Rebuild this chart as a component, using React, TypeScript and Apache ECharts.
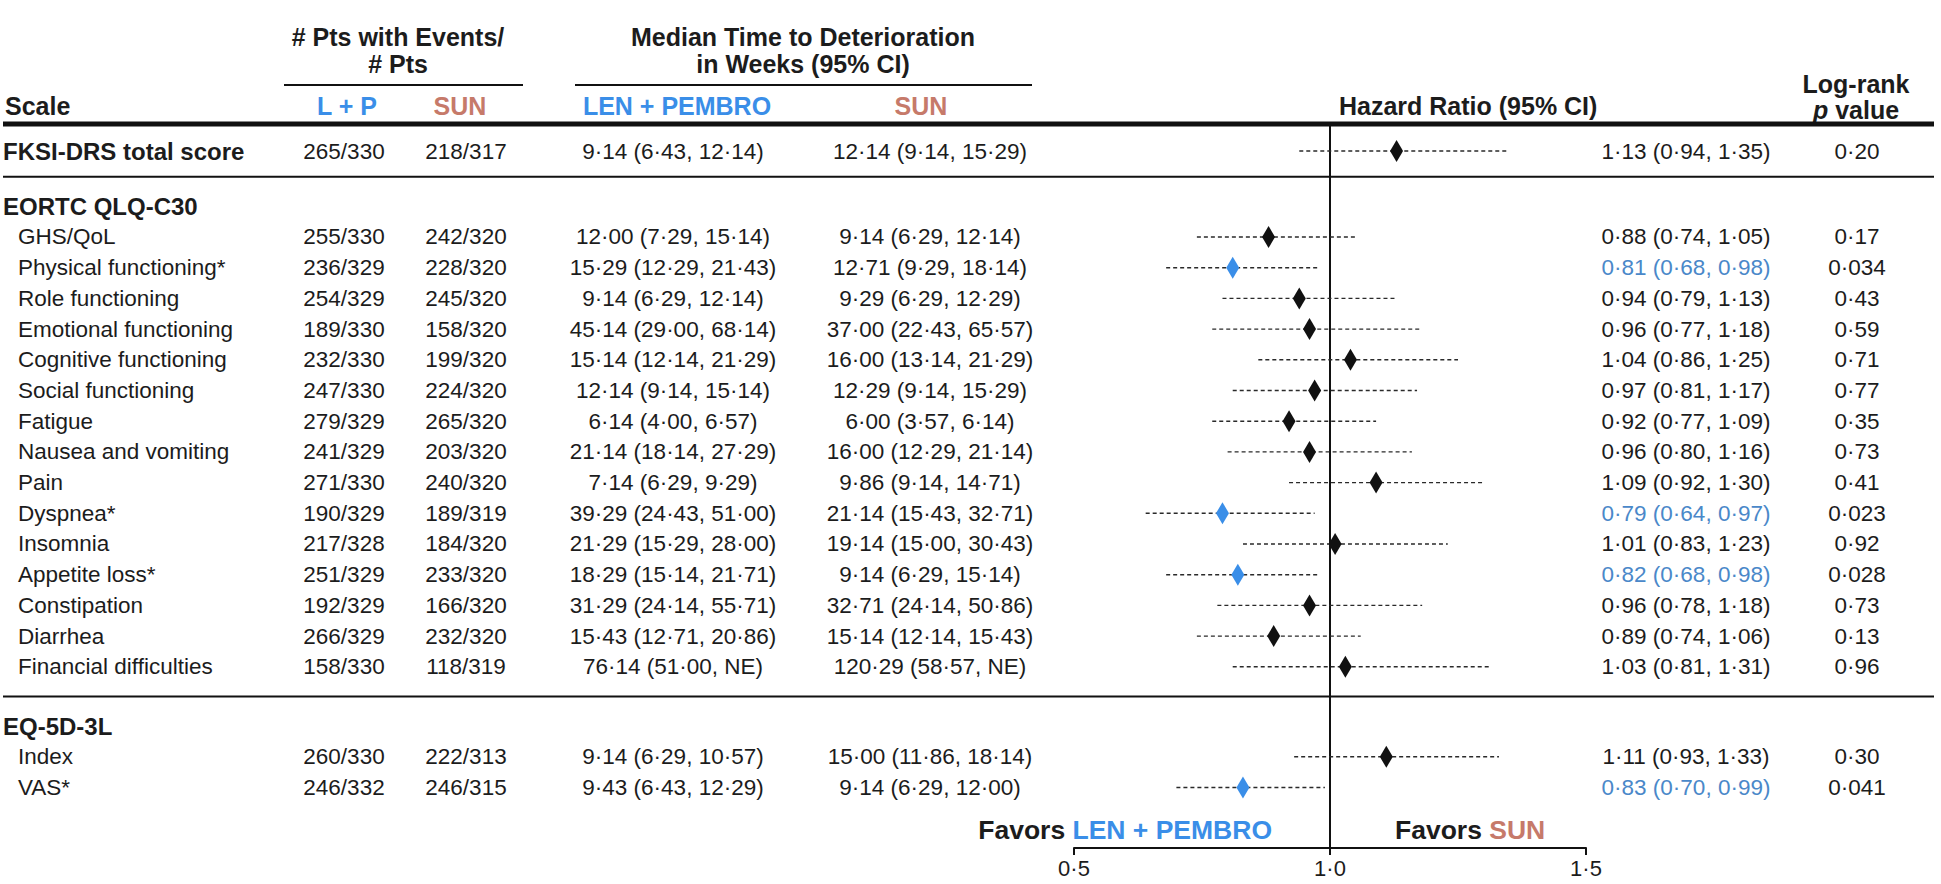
import { useEffect, useRef } from 'react';
import * as echarts from 'echarts';

const FONT = '"Liberation Sans", Arial, Helvetica, sans-serif';
const BLUE = '#3a8ee8';
const BLUE_TEXT = '#4a88c9';
const SUN_COLOR = '#c67a6a';
const TEXT = '#1c1c1c';
const LINE = '#111111';

// ---------- data ----------
const sectionTitles = ['EORTC QLQ-C30', 'EQ-5D-3L'];
const scaleLabels = [
  'FKSI-DRS total score',
  'GHS/QoL', 'Physical functioning*', 'Role functioning', 'Emotional functioning',
  'Cognitive functioning', 'Social functioning', 'Fatigue', 'Nausea and vomiting',
  'Pain', 'Dyspnea*', 'Insomnia', 'Appetite loss*', 'Constipation', 'Diarrhea',
  'Financial difficulties',
  'Index', 'VAS*',
];
// -1: stand-alone (bold) row, otherwise index into sectionTitles
const scaleSection = [-1, 0, 0, 0, 0, 0, 0, 0, 0, 0, 0, 0, 0, 0, 0, 0, 1, 1];
const ptsLP = ['265/330', '255/330', '236/329', '254/329', '189/330', '232/330', '247/330', '279/329', '241/329', '271/330', '190/329', '217/328', '251/329', '192/329', '266/329', '158/330', '260/330', '246/332'];
const ptsSUN = ['218/317', '242/320', '228/320', '245/320', '158/320', '199/320', '224/320', '265/320', '203/320', '240/320', '189/319', '184/320', '233/320', '166/320', '232/320', '118/319', '222/313', '246/315'];
const medianLP = ['9·14 (6·43, 12·14)', '12·00 (7·29, 15·14)', '15·29 (12·29, 21·43)', '9·14 (6·29, 12·14)', '45·14 (29·00, 68·14)', '15·14 (12·14, 21·29)', '12·14 (9·14, 15·14)', '6·14 (4·00, 6·57)', '21·14 (18·14, 27·29)', '7·14 (6·29, 9·29)', '39·29 (24·43, 51·00)', '21·29 (15·29, 28·00)', '18·29 (15·14, 21·71)', '31·29 (24·14, 55·71)', '15·43 (12·71, 20·86)', '76·14 (51·00, NE)', '9·14 (6·29, 10·57)', '9·43 (6·43, 12·29)'];
const medianSUN = ['12·14 (9·14, 15·29)', '9·14 (6·29, 12·14)', '12·71 (9·29, 18·14)', '9·29 (6·29, 12·29)', '37·00 (22·43, 65·57)', '16·00 (13·14, 21·29)', '12·29 (9·14, 15·29)', '6·00 (3·57, 6·14)', '16·00 (12·29, 21·14)', '9·86 (9·14, 14·71)', '21·14 (15·43, 32·71)', '19·14 (15·00, 30·43)', '9·14 (6·29, 15·14)', '32·71 (24·14, 50·86)', '15·14 (12·14, 15·43)', '120·29 (58·57, NE)', '15·00 (11·86, 18·14)', '9·14 (6·29, 12·00)'];
const hazardRatio = [1.13, 0.88, 0.81, 0.94, 0.96, 1.04, 0.97, 0.92, 0.96, 1.09, 0.79, 1.01, 0.82, 0.96, 0.89, 1.03, 1.11, 0.83];
const ciLow = [0.94, 0.74, 0.68, 0.79, 0.77, 0.86, 0.81, 0.77, 0.80, 0.92, 0.64, 0.83, 0.68, 0.78, 0.74, 0.81, 0.93, 0.70];
const ciHigh = [1.35, 1.05, 0.98, 1.13, 1.18, 1.25, 1.17, 1.09, 1.16, 1.30, 0.97, 1.23, 0.98, 1.18, 1.06, 1.31, 1.33, 0.99];
const pValues = ['0·20', '0·17', '0·034', '0·43', '0·59', '0·71', '0·77', '0·35', '0·73', '0·41', '0·023', '0·92', '0·028', '0·73', '0·13', '0·96', '0·30', '0·041'];
const significant = [false, false, true, false, false, false, false, false, false, false, true, false, true, false, false, false, false, true];
const axisMin = 0.5;
const axisMax = 1.5;
const axisStep = 0.5;
const referenceHR = 1;

// ---------- layout ----------
const PLOT_LEFT = 1074;
const PLOT_W = 512;
const PLOT_TOP = 124;
const PLOT_H = 724;
const ROW_PX = 30.7;
const Y_MAX = PLOT_H / ROW_PX;
const FIRST_ROW = 0.88;
const SECTION_GAP = [1.8, 1.93];
const SEP_ABOVE_HEADER = 0.96;

const BODY = 22.5;
const SECTION = 24;
const HEAD = 25;
const FAVORS = 26.5;

const rowPos: number[] = [];
const headerPos: number[] = [];
{
  let p = FIRST_ROW;
  scaleSection.forEach((s, i) => {
    if (i > 0) {
      if (s !== scaleSection[i - 1]) {
        p += SECTION_GAP[s];
        headerPos.push(p);
      }
      p += 1;
    }
    rowPos.push(p);
  });
}

const fmt = (v: number) => v.toFixed(2).replace('.', '·');

const COL = {
  label: 3,
  labelIndent: 18,
  ptsLP: 344,
  ptsSUN: 466,
  medLP: 673,
  medSUN: 930,
  hrText: 1686,
  pval: 1857,
  right: 1934,
};

export default function App() {
  const ref = useRef<HTMLDivElement>(null);
  useEffect(() => {
    document.body.style.margin = '0';
    const chart = echarts.init(ref.current!, undefined, { renderer: 'svg' });
    const data = scaleLabels.map((_, i) => [hazardRatio[i], ciLow[i], ciHigh[i], rowPos[i], significant[i] ? 1 : 0]);

    const renderItem = (params: any, api: any) => {
      const y = api.value(3);
      const lo = api.coord([api.value(1), y]);
      const hi = api.coord([api.value(2), y]);
      const c = api.coord([api.value(0), y]);
      const color = api.value(4) ? BLUE : '#111';
      return {
        type: 'group',
        children: [
          {
            type: 'line',
            shape: { x1: lo[0], y1: lo[1], x2: hi[0], y2: hi[1] },
            style: { stroke: '#2a2a2a', lineWidth: 1.4, lineDash: [4, 3] },
          },
          {
            type: 'polygon',
            shape: { points: [[c[0], c[1] - 11], [c[0] + 6.5, c[1]], [c[0], c[1] + 11], [c[0] - 6.5, c[1]]] },
            style: { fill: color },
          },
        ],
      };
    };

    chart.setOption({
      animation: false,
      grid: { left: PLOT_LEFT, top: PLOT_TOP, width: PLOT_W, height: PLOT_H, containLabel: false },
      xAxis: {
        type: 'value',
        min: axisMin,
        max: axisMax,
        interval: axisStep,
        axisLine: { show: true, onZero: false, lineStyle: { color: LINE, width: 2 } },
        axisTick: { show: true, length: 7, lineStyle: { color: LINE, width: 2 } },
        axisLabel: {
          fontSize: 22,
          color: TEXT,
          fontFamily: FONT,
          margin: 9,
          formatter: (v: number) => v.toFixed(1).replace('.', '·'),
        },
        splitLine: { show: false },
      },
      yAxis: { type: 'value', inverse: true, min: 0, max: Y_MAX, show: false },
      series: [
        {
          type: 'line',
          data: [[referenceHR, 0], [referenceHR, Y_MAX]],
          symbol: 'none',
          lineStyle: { color: LINE, width: 2 },
          silent: true,
          z: 1,
        },
        { type: 'custom', renderItem, data, z: 3, silent: true },
      ],
    });

    const yPx = (v: number) => chart.convertToPixel({ yAxisIndex: 0 }, v) as number;
    const g: any[] = [];
    const text = (t: string, x: number, y: number, o: any = {}) => {
      const align = o.align || 'left';
      g.push({
        type: 'text',
        x,
        y,
        silent: true,
        style: {
          text: t,
          fill: o.color || TEXT,
          fontSize: o.size || BODY,
          fontWeight: o.bold ? 'bold' : 'normal',
          fontFamily: FONT,
          textAlign: align,
          align,
          textVerticalAlign: 'middle',
          verticalAlign: 'middle',
          rich: o.rich,
        },
      });
    };
    const hline = (x1: number, x2: number, y: number, w: number) => {
      g.push({ type: 'line', silent: true, shape: { x1, y1: y, x2, y2: y }, style: { stroke: LINE, lineWidth: w } });
    };

    // header
    text('# Pts with Events/', 398, 37, { bold: true, size: HEAD, align: 'center' });
    text('# Pts', 398, 64, { bold: true, size: HEAD, align: 'center' });
    hline(284, 523, 85, 2);
    text('Median Time to Deterioration', 803, 37, { bold: true, size: HEAD, align: 'center' });
    text('in Weeks (95% CI)', 803, 64, { bold: true, size: HEAD, align: 'center' });
    hline(575, 1032, 85, 2);
    text('Scale', 5, 106, { bold: true, size: HEAD });
    text('L + P', 347, 106, { bold: true, size: HEAD, align: 'center', color: BLUE });
    text('SUN', 460, 106, { bold: true, size: HEAD, align: 'center', color: SUN_COLOR });
    text('LEN + PEMBRO', 677, 106, { bold: true, size: HEAD, align: 'center', color: BLUE });
    text('SUN', 921, 106, { bold: true, size: HEAD, align: 'center', color: SUN_COLOR });
    text('Hazard Ratio (95% CI)', 1339, 106, { bold: true, size: HEAD });
    text('Log-rank', 1856, 84, { bold: true, size: HEAD, align: 'center' });
    text('{i|p}{b| value}', 1856, 110, {
      bold: true,
      size: HEAD,
      align: 'center',
      rich: {
        i: { fontStyle: 'italic', fontWeight: 'bold', fontSize: HEAD, fontFamily: FONT, fill: TEXT, color: TEXT },
        b: { fontWeight: 'bold', fontSize: HEAD, fontFamily: FONT, fill: TEXT, color: TEXT },
      },
    });
    hline(3, COL.right, PLOT_TOP, 5);

    // section headers and separators
    headerPos.forEach((hp, s) => {
      text(sectionTitles[s], COL.label, yPx(hp), { bold: true, size: SECTION });
      hline(3, COL.right, yPx(hp - SEP_ABOVE_HEADER), 2);
    });

    // rows
    scaleLabels.forEach((lab, i) => {
      const y = yPx(rowPos[i]);
      const standalone = scaleSection[i] < 0;
      text(lab, standalone ? COL.label : COL.labelIndent, y, standalone ? { bold: true, size: SECTION } : {});
      text(ptsLP[i], COL.ptsLP, y, { align: 'center' });
      text(ptsSUN[i], COL.ptsSUN, y, { align: 'center' });
      text(medianLP[i], COL.medLP, y, { align: 'center' });
      text(medianSUN[i], COL.medSUN, y, { align: 'center' });
      text(`${fmt(hazardRatio[i])} (${fmt(ciLow[i])}, ${fmt(ciHigh[i])})`, COL.hrText, y, {
        align: 'center',
        color: significant[i] ? BLUE_TEXT : TEXT,
      });
      text(pValues[i], COL.pval, y, { align: 'center' });
    });

    // favors labels
    const xRef = chart.convertToPixel({ xAxisIndex: 0 }, referenceHR) as number;
    const richFav = (c2: string) => ({
      a: { fontWeight: 'bold', fontSize: FAVORS, fontFamily: FONT, fill: TEXT, color: TEXT },
      c: { fontWeight: 'bold', fontSize: FAVORS, fontFamily: FONT, fill: c2, color: c2 },
    });
    text('{a|Favors }{c|LEN + PEMBRO}', xRef - 58, 830, { bold: true, size: FAVORS, align: 'right', rich: richFav(BLUE) });
    text('{a|Favors }{c|SUN}', xRef + 65, 830, { bold: true, size: FAVORS, align: 'left', rich: richFav(SUN_COLOR) });

    chart.setOption({ graphic: { elements: g } });

    return () => chart.dispose();
  }, []);
  return <div ref={ref} style={{ width: 1941, height: 884 }} />;
}
